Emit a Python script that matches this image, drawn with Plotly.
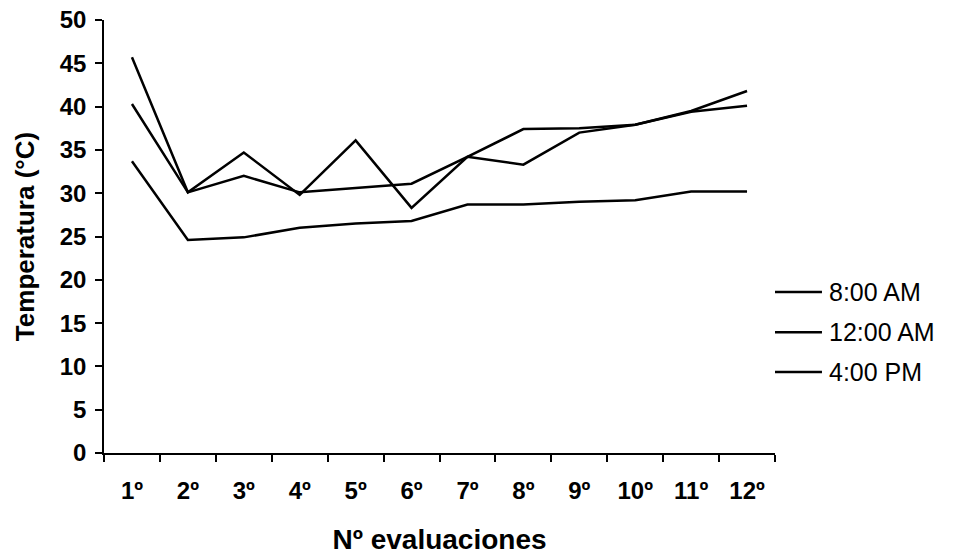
import plotly.graph_objects as go

# Evaluation rounds along the x axis
evaluaciones = ["1º", "2º", "3º", "4º", "5º", "6º", "7º", "8º", "9º", "10º", "11º", "12º"]

# Temperature readings (°C) at each time of day
temp_8am = [45.7, 30.1, 34.7, 29.8, 36.1, 28.3, 34.2, 37.4, 37.5, 37.9, 39.4, 40.1]
temp_12am = [40.3, 30.1, 32.0, 30.1, 30.6, 31.1, 34.2, 33.3, 37.0, 37.9, 39.5, 41.8]
temp_4pm = [33.7, 24.6, 24.9, 26.0, 26.5, 26.8, 28.7, 28.7, 29.0, 29.2, 30.2, 30.2]

series_names = ["8:00 AM", "12:00 AM", "4:00 PM"]
series_values = [temp_8am, temp_12am, temp_4pm]

y_ticks = [0, 5, 10, 15, 20, 25, 30, 35, 40, 45, 50]

FONT = "Liberation Sans, Arial, sans-serif"
LINE_W = 2.5

fig = go.Figure()
for name, vals in zip(series_names, series_values):
    fig.add_trace(go.Scatter(
        x=evaluaciones, y=vals, name=name, mode="lines",
        line=dict(color="black", width=LINE_W),
        showlegend=False,
    ))

# Key to the right of the plot: a short line sample followed by the series name
key_rows_y = [0.372, 0.279, 0.187]
for name, ky in zip(series_names, key_rows_y):
    fig.add_shape(type="line", xref="paper", yref="paper",
                  x0=1.0, x1=1.070, y0=ky, y1=ky,
                  line=dict(color="black", width=LINE_W))
    fig.add_annotation(xref="paper", yref="paper", x=1.078, y=ky,
                       xanchor="left", yanchor="middle", showarrow=False,
                       text=name, font=dict(family=FONT, size=25, color="black"))

fig.update_layout(
    width=961, height=558,
    margin=dict(l=104, r=186, t=20, b=105),
    paper_bgcolor="white", plot_bgcolor="white",
    font=dict(family=FONT, color="black", size=24),
    showlegend=False,
    xaxis=dict(
        type="category", range=[-0.5, 11.5], automargin=False,
        showline=True, linecolor="black", linewidth=1.5,
        ticks="outside", tickson="boundaries", ticklen=7, tickcolor="black", tickwidth=1.5,
        showgrid=False, zeroline=False,
        tickfont=dict(family=FONT, size=24, color="black", weight="bold"),
        ticklabelstandoff=15,
        title=dict(text="Nº evaluaciones", font=dict(family=FONT, size=28, weight="bold"), standoff=27),
    ),
    yaxis=dict(
        range=[0, 50], tickvals=y_ticks, automargin=False,
        showline=True, linecolor="black", linewidth=1.5,
        ticks="outside", ticklen=7, tickcolor="black", tickwidth=1.5,
        showgrid=False, zeroline=False,
        tickfont=dict(family=FONT, size=24, color="black", weight="bold"),
        ticklabelstandoff=4,
        title=dict(text="Temperatura (°C)", font=dict(family=FONT, size=26, weight="bold"), standoff=18),
    ),
)

fig.write_html("out.html")
